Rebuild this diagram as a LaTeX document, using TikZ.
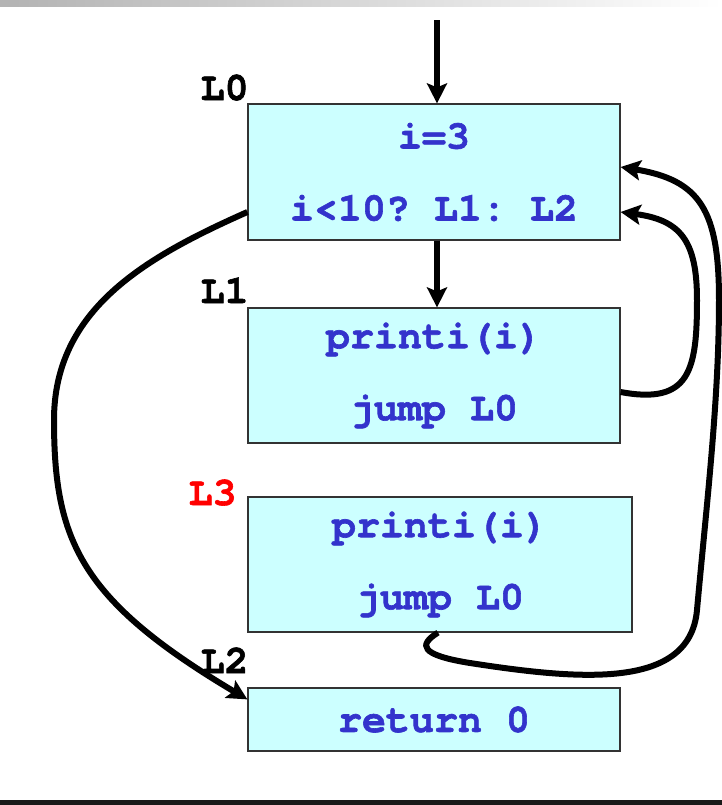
\documentclass[tikz,border=0pt]{standalone}
\usepackage{fontspec}
\setmonofont{texgyrecursor}[Extension=.otf, UprightFont=*-regular, BoldFont=*-bold, BoldFeatures={FakeBold=1.5}]
\usetikzlibrary{arrows.meta}
\definecolor{boxfill}{RGB}{204,255,255}
\definecolor{codeblue}{RGB}{51,51,204}

\begin{document}
\begin{tikzpicture}[x=0.5pt,y=-0.5pt]
	\tikzstyle{block} = [rectangle, draw=black!80, line width=0.6pt, fill=boxfill, text=codeblue, font=\ttfamily\bfseries\fontsize{20}{36}\selectfont, align=center, minimum width=186pt, inner sep=0pt]
	\tikzstyle{tag} = [font=\ttfamily\bfseries\fontsize{20}{24}\selectfont, anchor=base east, inner sep=0pt]
	\tikzstyle{flow} = [line width=3pt, -{Stealth[length=10pt,width=10pt,inset=2pt]}]
	\useasboundingbox (0,0) rectangle (722,805);
	\shade [left color=black!30, right color=white] (0,0) rectangle (722,6);
	\fill [black!90] (0,800) rectangle (722,805);
	% blocks
	\node [block, minimum height=68pt] (b0) at (434,172) {i=3\\i<10? L1: L2};
	\node [block, minimum height=67.5pt] (b1) at (434,375.5) {printi(i)\\jump L0};
	\node [block, minimum height=67.5pt, minimum width=192pt] (b3) at (440,564.5) {printi(i)\\jump L0};
	\node [block, minimum height=31.5pt] (b2) at (434,719.5) {return 0};
	% labels
	\node [tag] (l0) at (249,100) {L0};
	\node [tag] (l1) at (249,303) {L1};
	\node [tag, text=red] (l3) at (237,505) {L3};
	\node [tag] (l2) at (249,673) {L2};
	% edges
	\coordinate (entry) at (437,20);
	\draw [flow] (entry) -- (entry |- b0.north);
	\draw [flow] (entry |- b0.south) -- (entry |- b1.north);
	\draw [flow] ([yshift=-20pt]b0.west) .. controls (146,257) and (54,309) .. (54,420)
		.. controls (54,540) and (80,600) .. ([yshift=-6pt]b2.north west);
	\draw [flow] ([yshift=-8.25pt]b1.east) .. controls (690,405) and (697,370) .. (697,300)
		.. controls (697,240) and (680,220) .. ([yshift=-20pt]b0.east);
	\draw [flow] ([xshift=-1pt]b3.south) .. controls (418,645) and (420,655) .. (470,663)
		.. controls (580,680) and (690,690) .. (697,610)
		.. controls (707,500) and (719,400) .. (719,300)
		.. controls (719,210) and (700,180) .. ([yshift=2.5pt]b0.east);
\end{tikzpicture}
\end{document}
